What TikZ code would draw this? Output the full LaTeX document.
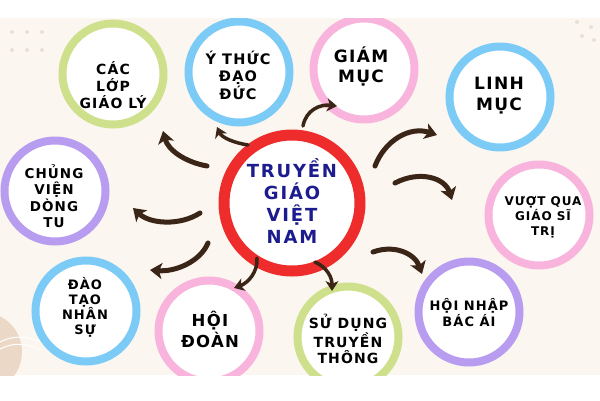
\documentclass[tikz,border=0pt]{standalone}
\usepackage{fontspec}
\setmainfont{DejaVu Sans}
\newfontfamily\lblfont{DejaVu Sans}[LetterSpace=8]
\newfontfamily\ctrfont{DejaVu Sans}[LetterSpace=10]
\usetikzlibrary{arrows.meta}
\definecolor{cream}{HTML}{FBF7F0}
\definecolor{rgreen}{HTML}{CFE08C}
\definecolor{rblue}{HTML}{7CCBF6}
\definecolor{rpink}{HTML}{F8B4DC}
\definecolor{rpurple}{HTML}{B79CF0}
\definecolor{rred}{HTML}{EE2C2C}
\definecolor{navy}{HTML}{1C1C8E}
\definecolor{brush}{HTML}{3B2517}
\definecolor{dotc}{HTML}{EADFD2}
\definecolor{blob}{HTML}{EBD8C6}
\tikzset{
  ring/.style={circle, draw=#1, fill=white, line width=8pt, minimum size=101pt, inner sep=0pt},
  lbl/.style={align=center, inner sep=0pt, font=\lblfont\bfseries\fontsize{14}{17}\selectfont, text=black},
  brusharrow/.style={draw=brush, line width=5pt, line cap=round,
    -{Stealth[length=12pt,width=16pt,inset=3pt]}},
  thinbrush/.style={brusharrow, line width=3.5pt, -{Stealth[length=10pt,width=13pt,inset=3pt]}},
  dotmark/.style={circle, fill=dotc, inner sep=0pt, minimum size=4pt}
}
\begin{document}
\begin{tikzpicture}[x=1pt,y=-1pt]
\useasboundingbox (0,0) rectangle (600,400);
\fill[white] (0,0) rectangle (600,400);
\fill[cream] (0,18) rectangle (600,375);
\begin{scope}
\clip (0,18) rectangle (600,375);
% decorations
\fill[blob] (-18,352) circle (40pt);
\draw[white, line width=1pt] (-5,345) .. controls (10,335) and (25,335) .. (40,342);
\draw[white, line width=1pt] (-5,352) .. controls (10,342) and (25,342) .. (40,350);
\foreach \dx in {12,27,42} { \foreach \dy in {32,50} { \node[dotmark] (d\dx\dy) at (\dx,\dy) {}; } }
\node[dotmark] (r1) at (577,22) {};
\node[dotmark] (r2) at (591,27) {};
\node[dotmark] (r3) at (582,36) {};
\node[dotmark] (r4) at (594,40) {};
% rings
\node[ring=rgreen] (c1) at (113,74) {};
\node[ring=rblue] (c2) at (239,72) {};
\node[ring=rpink] (c3) at (364,69) {};
\node[ring=rblue] (c4) at (500,97) {};
\node[ring=rpink] (c5) at (539,215) {};
\node[ring=rpurple] (c6) at (469,312) {};
\node[ring=rgreen] (c7) at (348,337) {};
\node[ring=rpink] (c8) at (209,331) {};
\node[ring=rblue] (c9) at (86,311) {};
\node[ring=rpurple] (c10) at (55,191) {};
\node[circle, draw=rred, fill=white, line width=11pt, minimum size=136pt, inner sep=0pt] (c0) at (292,203) {};
\end{scope}
% labels
\node[lbl] (t1) at (113,85) {CÁC\\LỚP\\GIÁO LÝ};
\node[lbl, font=\lblfont\bfseries\fontsize{14.5}{17.5}\selectfont] (t2) at (238,75) {Ý THỨC\\ĐẠO\\ĐỨC};
\node[lbl, font=\lblfont\bfseries\fontsize{17}{20}\selectfont] (t3) at (361,66) {GIÁM\\MỤC};
\node[lbl, font=\lblfont\bfseries\fontsize{17}{21}\selectfont] (t4) at (499,96) {LINH\\MỤC};
\node[lbl, font=\lblfont\bfseries\fontsize{12}{15}\selectfont] (t5) at (543,217) {VƯỢT QUA\\GIÁO SĨ\\TRỊ};
\node[lbl, font=\lblfont\bfseries\fontsize{13}{16}\selectfont] (t6) at (469,313) {HỘI NHẬP\\BÁC ÁI};
\node[lbl, font=\lblfont\bfseries\fontsize{14}{16.5}\selectfont] (t7) at (348,339) {SỬ DỤNG\\TRUYỀN\\THÔNG};
\node[lbl, font=\lblfont\bfseries\fontsize{16.5}{21}\selectfont] (t8) at (210,329) {HỘI\\ĐOÀN};
\node[lbl, font=\lblfont\bfseries\fontsize{13}{15}\selectfont] (t9) at (85,307) {ĐÀO\\TẠO\\NHÂN\\SỰ};
\node[lbl, font=\lblfont\bfseries\fontsize{13.5}{16.5}\selectfont] (t10) at (54,196) {CHỦNG\\VIỆN\\DÒNG\\TU};
\node[lbl, text=navy, font=\ctrfont\bfseries\fontsize{18}{22}\selectfont] (t0) at (292,201) {TRUYỀN\\GIÁO\\VIỆT\\NAM};
% arrow end points
\coordinate (a1) at (207,166); \coordinate (b1) at (163,131);
\coordinate (a2) at (248,145); \coordinate (b2) at (217,127);
\coordinate (a3) at (303,126); \coordinate (b3) at (337,106);
\coordinate (a4) at (375,166); \coordinate (b4) at (437,135);
\coordinate (a5) at (395,183); \coordinate (b5) at (452,200);
\coordinate (a6) at (373,252); \coordinate (b6) at (422,274);
\coordinate (a7) at (315,262); \coordinate (b7) at (332,291);
\coordinate (a8) at (257,258); \coordinate (b8) at (234,288);
\coordinate (a9) at (208,243); \coordinate (b9) at (150,270);
\coordinate (a10) at (200,213); \coordinate (b10) at (133,208);
\draw[brusharrow] (a1) .. controls (185,162) and (168,150) .. (b1);
\draw[thinbrush] (a2) .. controls (235,143) and (222,138) .. (b2);
\draw[thinbrush] (a3) .. controls (306,110) and (320,104) .. (b3);
\draw[brusharrow] (a4) .. controls (385,140) and (410,126) .. (b4);
\draw[brusharrow] (a5) .. controls (420,170) and (445,178) .. (b5);
\draw[brusharrow] (a6) .. controls (395,244) and (415,254) .. (b6);
\draw[thinbrush] (a7) .. controls (328,268) and (332,278) .. (b7);
\draw[thinbrush] (a8) .. controls (258,272) and (248,283) .. (b8);
\draw[brusharrow] (a9) .. controls (200,262) and (175,272) .. (b9);
\draw[brusharrow] (a10) .. controls (180,226) and (150,224) .. (b10);
\end{tikzpicture}
\end{document}
